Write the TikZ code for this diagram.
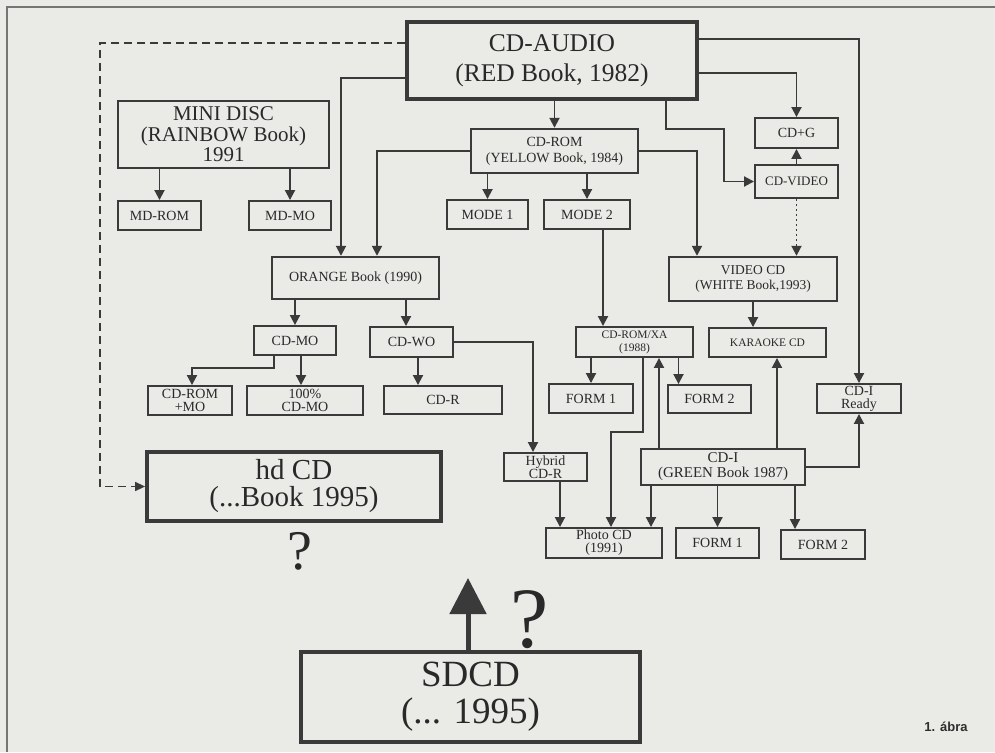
\documentclass[tikz,border=0pt]{standalone}
\usepackage{fontspec}
\setmainfont{Liberation Serif}
\setsansfont{Liberation Sans}
\usetikzlibrary{arrows.meta,positioning,calc}

\definecolor{ink}{HTML}{3A3A3A}
\definecolor{paper}{HTML}{EAEAE7}
\newcommand\fsz[2]{\fontsize{#1}{#2}\selectfont}

\tikzset{
  box/.style={draw=ink, line width=1.9pt, inner sep=0pt, align=center, text=ink!70!black},
  small/.style={box, font=\fsz{14}{14}},
  mid/.style={box, line width=2.4pt, font=\fsz{13.5}{15.5}},
  big/.style={box, line width=3.8pt},
  sz/.style 2 args={minimum width=#1pt, minimum height=#2pt},
  arr/.style={draw=ink, line width=1.9pt, -{Triangle[length=10pt,width=10pt]}},
}

\begin{document}
\begin{tikzpicture}[x=1pt,y=-1pt]
  \fill[paper] (0,0) rectangle (995,752);
  \useasboundingbox (0,0) rectangle (995,752);
  \draw[ink!70, line width=1.2pt] (7,752) -- (7,7) -- (995,7);

  % top row
  \node[big, sz={290}{77}, font=\fsz{25.5}{30}] (audio) at (552,60.5) {CD-AUDIO\\(RED Book, 1982)};
  \node[mid, line width=2.6pt, sz={211}{67}, font=\fsz{21}{20.5}] (minidisc) at (223.5,134.5) {MINI DISC\\(RAINBOW Book)\\1991};
  \node[small, sz={83}{29}] (mdrom) at (159.5,215.5) {MD-ROM};
  \node[small, sz={82}{29}] (mdmo) at (290,215.5) {MD-MO};
  \node[mid, sz={167}{44}, font=\fsz{14}{16}] (cdrom) at (554.5,151) {CD-ROM\\(YELLOW Book, 1984)};
  \node[small, sz={81}{29}] (mode1) at (487.5,214.5) {MODE 1};
  \node[small, sz={86}{29}] (mode2) at (587,214.5) {MODE 2};
  \node[small, sz={83}{30}] (cdg) at (796.5,133) {CD+G};
  \node[small, sz={83}{33}, font=\fsz{13}{14}] (cdvideo) at (796.5,181.5) {CD-VIDEO};
  \node[mid, sz={168}{44}] (videocd) at (753,279) {VIDEO CD\\(WHITE Book,1993)};

  % middle
  \node[mid, sz={167}{42}, font=\fsz{14}{15}] (orange) at (355.5,278) {ORANGE Book (1990)};
  \node[small, sz={82}{29}] (cdmo) at (295,340.5) {CD-MO};
  \node[small, sz={83}{30}] (cdwo) at (411.5,342) {CD-WO};
  \node[small, sz={118}{28}] (cdr) at (443,400) {CD-R};
  \node[small, sz={84}{29}, font=\fsz{14}{13}] (cdrommo) at (190,400.5) {CD-ROM\\+MO};
  \node[small, sz={116}{29}, font=\fsz{14}{13}] (fullmo) at (305,400.5) {100\%\\CD-MO};
  \node[small, sz={117}{30}, font=\fsz{11.5}{13}] (cdromxa) at (634.5,342) {CD-ROM/XA\\(1988)};
  \node[small, sz={117}{29}, font=\fsz{11.5}{13}] (karaoke) at (767.5,342.5) {KARAOKE CD};
  \node[small, sz={84}{29}] (form1a) at (591,398.5) {FORM 1};
  \node[small, sz={83}{28}] (form2a) at (709.5,399) {FORM 2};
  \node[small, sz={84}{29}, font=\fsz{14}{13}] (cdiready) at (859,398.5) {CD-I\\Ready};
  \node[small, sz={83}{28}, font=\fsz{14}{13}] (hybrid) at (545.5,467) {Hybrid\\CD-R};
  \node[mid, sz={164}{36}, font=\fsz{15}{15}] (cdi) at (723,467) {CD-I\\(GREEN Book 1987)};
  \node[small, sz={116}{30}, font=\fsz{14}{13}] (photocd) at (604,543) {Photo CD\\(1991)};
  \node[small, sz={83}{30}] (form1b) at (717.5,543) {FORM 1};
  \node[small, sz={84}{29}] (form2b) at (823,544.5) {FORM 2};

  % bottom
  \node[big, sz={294}{69}, font=\fsz{29}{27}] (hdcd) at (294,486.5) {hd CD\\(...Book 1995)};
  \node[big, sz={339}{90}, font=\fsz{37}{37}] (sdcd) at (470.5,697) {SDCD\\(... 1995)};
  \node[text=ink!70!black, font=\fsz{56}{56}] (qa) at (300,551) {?};
  \node[text=ink!70!black, font=\fsz{86}{86}] (qb) at (530,620) {?};
  \node[text=ink!80!black, font=\sffamily\bfseries\fsz{13}{13}] (abra) at (946,727) {1. ábra};
  \coordinate (tip) at (468,578);

  % connectors
  \draw[draw=ink, line width=1.5pt, dash pattern=on 8pt off 5pt, -{Triangle[length=10pt,width=9pt]}]
    ([yshift=17.5pt]audio.west) -- (100,43) |- (hdcd.west);
  \draw[arr] ([yshift=-17.5pt]audio.west) -| ([xshift=-14.5pt]orange.north);
  \draw[arr] (cdrom.west) -| ([xshift=21.5pt]orange.north);
  \draw[arr] (minidisc.south -| mdrom.north) -- (mdrom.north);
  \draw[arr] (minidisc.south -| mdmo.north) -- (mdmo.north);
  \draw[arr] (audio.south -| cdrom.north) -- (cdrom.north);
  \draw[arr] (cdrom.south -| mode1.north) -- (mode1.north);
  \draw[arr] (cdrom.south -| mode2.north) -- (mode2.north);
  \draw[arr] (cdrom.east) -| ([xshift=-56pt]videocd.north);
  \draw[arr] ([xshift=114pt]audio.south) |- (724,129) |- (cdvideo.west);
  \draw[arr] ([yshift=-12.5pt]audio.east) -| (cdg.north);
  \draw[arr] (cdvideo.north) -- (cdg.south);
  \draw[arr, dash pattern=on 2pt off 3pt] (cdvideo.south) -- (cdvideo.south |- videocd.north);
  \draw[arr] ([yshift=21.5pt]audio.east) -| (cdiready.north);
  \draw[arr] (videocd.south) -- (videocd.south |- karaoke.north);
  \draw[arr] ([xshift=16pt]mode2.south) -- ([xshift=16pt]mode2.south |- cdromxa.north);
  \draw[arr] (cdromxa.south -| form1a.north) -- (form1a.north);
  \draw[arr] ([xshift=44pt]cdromxa.south) -- ([xshift=44pt]cdromxa.south |- form2a.north);
  \draw[arr] ([xshift=-64pt]cdi.north) -- ([xshift=-64pt]cdi.north |- cdromxa.south);
  \draw[arr] ([xshift=54pt]cdi.north) -- ([xshift=54pt]cdi.north |- karaoke.south);
  \draw[arr] (cdi.east) -| (cdiready.south);
  \draw[arr] ([xshift=8.5pt]cdromxa.south) |- ([xshift=7pt]photocd.north |- 0,432) -- ([xshift=7pt]photocd.north);
  \draw[arr] (cdwo.east) -| ([xshift=-12.5pt]hybrid.north);
  \draw[arr] ([xshift=14.5pt]hybrid.south) -- ([xshift=14.5pt]hybrid.south |- photocd.north);
  \draw[arr] ([xshift=-72pt]cdi.south) -- ([xshift=-72pt]cdi.south |- photocd.north);
  \draw[arr] (cdi.south -| form1b.north) -- (form1b.north);
  \draw[arr] ([xshift=72pt]cdi.south) -- ([xshift=72pt]cdi.south |- form2b.north);
  \draw[arr] (orange.south -| cdmo.north) -- (cdmo.north);
  \draw[arr] ([xshift=-5.5pt]cdwo.north |- orange.south) -- ([xshift=-5.5pt]cdwo.north);
  \draw[arr] ([xshift=6.5pt]cdwo.south) -- ([xshift=6.5pt]cdwo.south |- cdr.north);
  \draw[arr] ([xshift=-21pt]cdmo.south) |- ([xshift=2pt]cdrommo.north |- 0,368) -- ([xshift=2pt]cdrommo.north);
  \draw[arr] ([xshift=6pt]cdmo.south) -- ([xshift=6pt]cdmo.south |- fullmo.north);
  \draw[draw=ink, line width=5pt, -{Triangle[length=36pt,width=36pt]}] ([xshift=-2.5pt]sdcd.north) -- (tip);
\end{tikzpicture}
\end{document}
